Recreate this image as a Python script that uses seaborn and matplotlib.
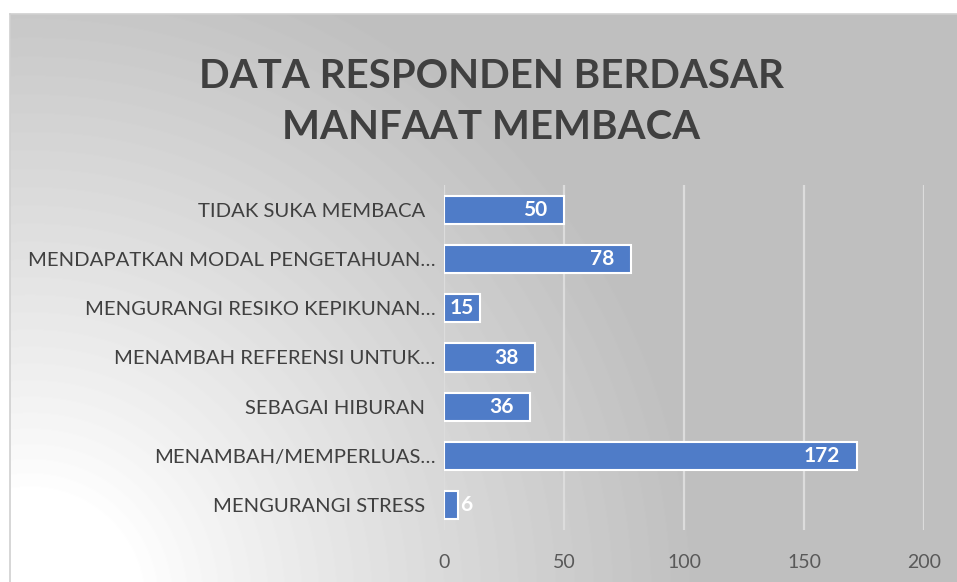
import numpy as np
import pandas as pd
import seaborn as sns
import matplotlib.pyplot as plt

categories = ['TIDAK SUKA MEMBACA  ', 'MENDAPATKAN MODAL PENGETAHUAN…',
              'MENGURANGI RESIKO KEPIKUNAN…', 'MENAMBAH REFERENSI UNTUK…',
              'SEBAGAI HIBURAN  ', 'MENAMBAH/MEMPERLUAS…', 'MENGURANGI STRESS  ']
values = [50, 78, 15, 38, 36, 172, 6]
x_ticks = [0, 50, 100, 150, 200]

data = pd.DataFrame({'kategori': categories, 'jumlah': values})

sns.set_style('white')
plt.rcParams['font.family'] = ['Lato', 'DejaVu Sans']

W, H = 957, 582
fig = plt.figure(figsize=(W / 100, H / 100), dpi=100)
fig.patch.set_facecolor('white')

# chart area background: radial light spot in the lower-left corner
bg = fig.add_axes([10 / W, 0, (W - 10) / W, (H - 14) / H], zorder=-1)
gx, gy = np.meshgrid(np.arange(W - 10), np.arange(H - 14))
dist = np.hypot(gx - 20, gy - (H - 14) - 20)
t = np.clip((dist - 110) / 560, 0, 1) ** 0.9
shade = 1 - (1 - 0.75) * t
bg.imshow(shade, cmap='gray', vmin=0, vmax=1, aspect='auto',
          extent=[0, 1, 0, 1], origin='upper')
bg.set_xticks([])
bg.set_yticks([])
for s in bg.spines.values():
    s.set_color('#d0d0d0')
    s.set_linewidth(1.2)
bg.spines['right'].set_visible(False)
bg.spines['bottom'].set_visible(False)

ax = fig.add_axes([444 / W, 1 - 530 / H, 480 / W, 345 / H])
ax.set_facecolor('none')
sns.barplot(data=data, x='jumlah', y='kategori', orient='h', color='#4f7cc8',
            width=0.57, edgecolor='white', linewidth=1.5, saturation=1, ax=ax,
            zorder=3)

ax.set_xlim(0, 200)
ax.set_xticks(x_ticks)
ax.grid(axis='x', color='#dcdcdc', linewidth=1.6, zorder=0)
ax.set_axisbelow(True)
for s in ax.spines.values():
    s.set_visible(False)
ax.set_xlabel('')
ax.set_ylabel('')
ax.tick_params(axis='y', length=0, pad=6, labelsize=14.6, labelcolor='#404040')
ax.tick_params(axis='x', length=0, pad=17, labelsize=14, labelcolor='#595959')

px_per_unit = 480 / 200
for i, v in enumerate(values):
    w = v * px_per_unit
    if w > 60:
        ax.annotate(str(v), (v, i), xytext=(-12, 0), textcoords='offset points',
                    ha='right', va='center', color='white', fontweight='bold',
                    fontsize=15)
    elif w > 20:
        ax.annotate(str(v), (v / 2, i), ha='center', va='center', color='white',
                    fontweight='bold', fontsize=15)
    else:
        ax.annotate(str(v), (v, i), xytext=(1, 0), textcoords='offset points',
                    ha='left', va='center', color='white', fontweight='bold',
                    fontsize=15)

fig.text(0.513, 1 - 102 / H, 'DATA RESPONDEN BERDASAR\nMANFAAT MEMBACA',
         ha='center', va='center', fontsize=29, fontweight='bold',
         color='#404040', linespacing=1.45)

fig.savefig('out.png', dpi=100)
